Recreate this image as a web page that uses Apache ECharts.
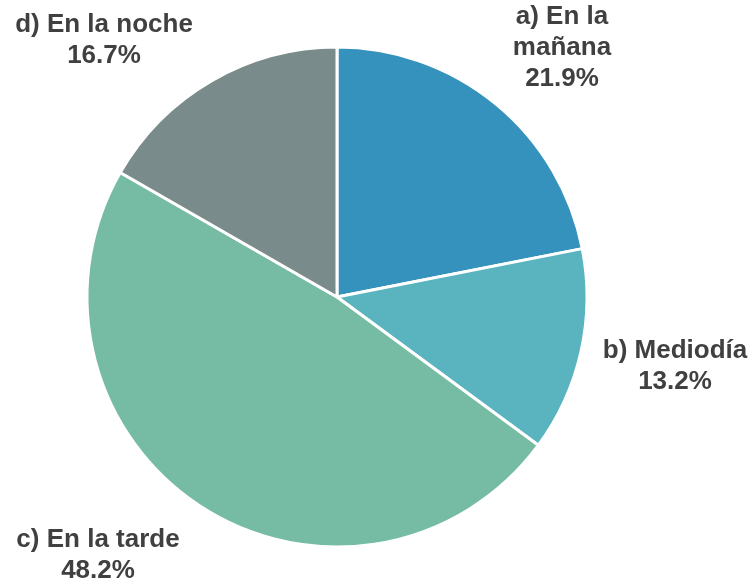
<!DOCTYPE html>
<html>
<head>
<meta charset="utf-8">
<script src="https://cdn.jsdelivr.net/npm/echarts@6/dist/echarts.min.js"></script>
<style>
  html, body { margin: 0; padding: 0; background: #fff; }
  #el { width: 752px; height: 579px; }
</style>
</head>
<body>
<div id="el"></div>
<script>
// datos
const categories = ['a) En la\nmañana', 'b) Mediodía', 'c) En la tarde', 'd) En la noche'];
const values = [21.9, 13.2, 48.2, 16.7];
const colors = ['#3592bc', '#59b4c0', '#76bca5', '#798b8a'];

// centro de cada etiqueta
const labelPos = [[562, 48], [675, 366], [98, 555], [104, 40]];

let mychart = echarts.init(document.getElementById('el'));
let option = {
    animation: false,
    series: [{
        type: 'pie',
        center: [337, 297],
        radius: 250,
        startAngle: 90,
        clockwise: true,
        data: categories.map((c, i) => ({ name: c, value: values[i], itemStyle: { color: colors[i] } })),
        itemStyle: { borderColor: '#fff', borderWidth: 3 },
        label: {
            show: true,
            position: 'outside',
            formatter: p => p.name + '\n' + p.value.toFixed(1) + '%',
            color: '#404040',
            fontFamily: 'Liberation Sans, Arial, sans-serif',
            fontWeight: 'bold',
            fontSize: 26,
            lineHeight: 31,
            align: 'center',
            overflow: 'none',
            width: 300
        },
        labelLine: { show: false },
        labelLayout: p => ({
            x: labelPos[p.dataIndex][0],
            y: labelPos[p.dataIndex][1],
            align: 'center',
            verticalAlign: 'middle'
        })
    }]
};
mychart.setOption(option);
</script>
</body>
</html>
